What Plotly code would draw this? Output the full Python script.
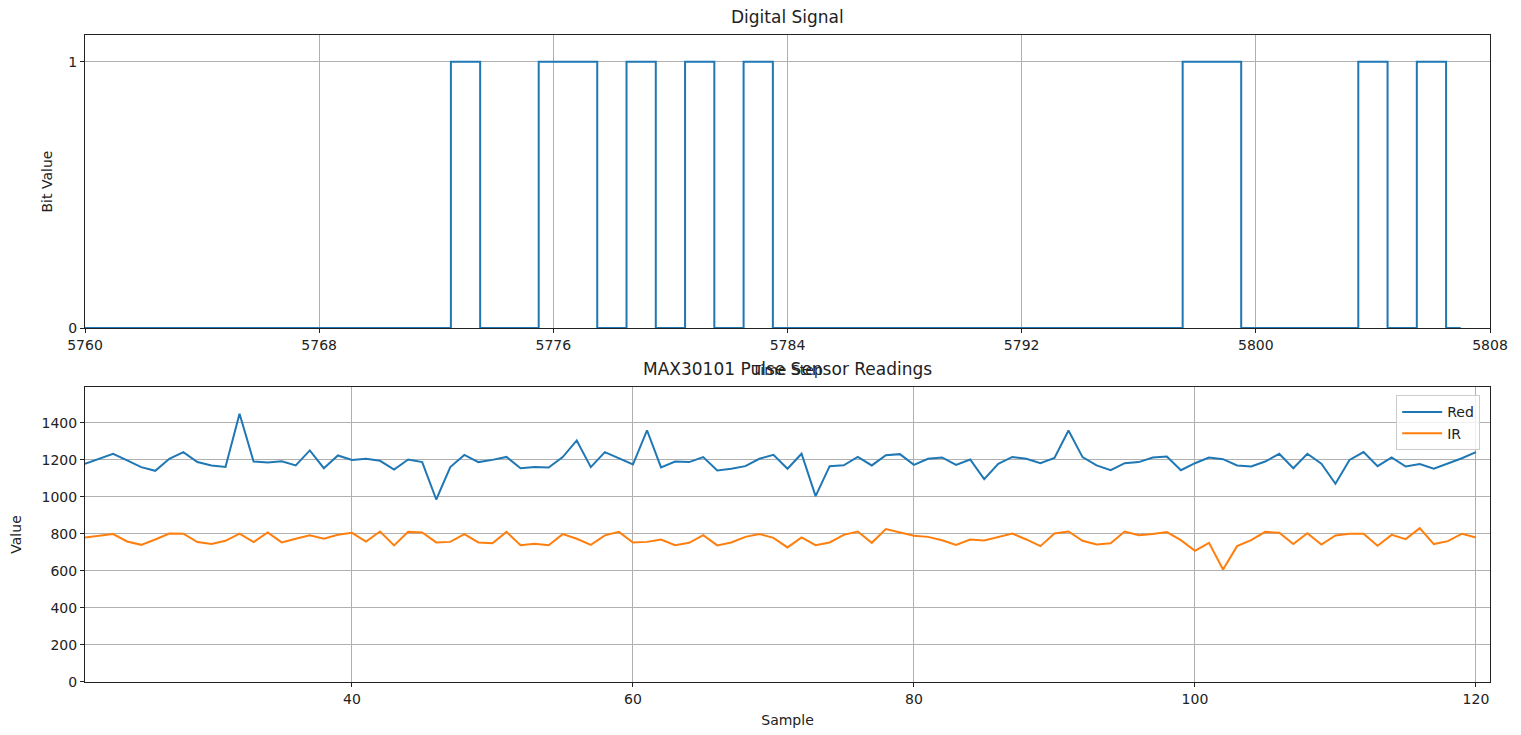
import plotly.graph_objects as go

# ---- Data ----
time_steps = list(range(5760, 5808))
one_positions = [5773, 5776, 5777, 5779, 5781, 5783, 5798, 5799, 5804, 5806]
bits = [1 if t in one_positions else 0 for t in time_steps]

samples = list(range(21, 121))
red = [1179, 1206, 1233, 1197, 1161, 1141, 1206, 1242, 1188, 1170,
       1162, 1449, 1191, 1186, 1193, 1170, 1251, 1155, 1224, 1200,
       1206, 1195, 1148, 1202, 1188, 986, 1161, 1227, 1188, 1200,
       1216, 1155, 1161, 1159, 1215, 1305, 1161, 1242, 1209, 1175,
       1360, 1159, 1191, 1188, 1215, 1143, 1152, 1166, 1206, 1227,
       1152, 1233, 1004, 1166, 1171, 1216, 1170, 1225, 1231, 1173,
       1206, 1213, 1173, 1202, 1096, 1179, 1216, 1206, 1182, 1211,
       1359, 1215, 1170, 1144, 1182, 1188, 1213, 1218, 1144, 1182,
       1213, 1204, 1170, 1164, 1191, 1233, 1155, 1233, 1179, 1071,
       1200, 1242, 1166, 1213, 1164, 1177, 1152, 1179, 1209, 1242]
ir = [781, 792, 799, 759, 741, 770, 802, 801, 756, 745,
      763, 802, 756, 808, 754, 774, 792, 774, 795, 806,
      759, 813, 738, 811, 808, 754, 757, 799, 754, 750,
      811, 739, 747, 739, 799, 774, 741, 792, 811, 754,
      757, 770, 739, 752, 793, 738, 754, 784, 799, 779,
      727, 781, 739, 754, 795, 813, 752, 826, 806, 790,
      784, 766, 741, 770, 765, 784, 802, 770, 734, 802,
      813, 763, 743, 750, 813, 793, 799, 810, 766, 709,
      752, 608, 734, 766, 811, 806, 745, 804, 743, 792,
      801, 801, 736, 795, 772, 831, 745, 761, 801, 781]

top_ticks = [5760, 5768, 5776, 5784, 5792, 5800, 5808]
bottom_xticks = [40, 60, 80, 100, 120]
bottom_yticks = [0, 200, 400, 600, 800, 1000, 1200, 1400]

BLUE = "#1f77b4"
ORANGE = "#ff7f0e"
FONT = "DejaVu Sans"
GRID = "#b0b0b0"

fig = go.Figure()
fig.add_trace(go.Scatter(x=time_steps, y=bits, mode="lines", line=dict(color=BLUE, width=2, shape="hvh"),
                         showlegend=False, xaxis="x", yaxis="y"))
fig.add_trace(go.Scatter(x=samples, y=red, mode="lines", name="Red", line=dict(color=BLUE, width=2),
                         xaxis="x2", yaxis="y2"))
fig.add_trace(go.Scatter(x=samples, y=ir, mode="lines", name="IR", line=dict(color=ORANGE, width=2),
                         xaxis="x2", yaxis="y2"))

axis_common = dict(showline=True, linecolor="#222", linewidth=1, mirror=True, ticks="outside",
                   ticklen=4, tickcolor="#222", showgrid=True, gridcolor=GRID, gridwidth=1,
                   zeroline=False, automargin=False, tickfont=dict(family=FONT, size=14, color="#222"))

ymax_top = max(bits) * 1.1
ymax_bot = max(red) * 1.1

fig.update_layout(
    width=1521, height=735,
    margin=dict(l=77, r=39, t=27, b=61),
    paper_bgcolor="white", plot_bgcolor="white",
    font=dict(family=FONT, size=14, color="#222"),
    xaxis=dict(axis_common, domain=[0, 1], anchor="y", range=[5760, 5808], tickvals=top_ticks,
               title=dict(text="Time Step", standoff=13, font=dict(size=14))),
    yaxis=dict(axis_common, domain=[0.547, 1.0], anchor="x", range=[0, ymax_top], tickvals=[0, 1],
               title=dict(text="Bit Value", standoff=12, font=dict(size=14))),
    xaxis2=dict(axis_common, domain=[0, 1], anchor="y2", range=[21, 121], tickvals=bottom_xticks,
                title=dict(text="Sample", standoff=9, font=dict(size=14))),
    yaxis2=dict(axis_common, domain=[0, 0.456], anchor="x2", range=[0, ymax_bot], tickvals=bottom_yticks,
                title=dict(text="Value", standoff=16, font=dict(size=14))),
    legend=dict(x=0.993, y=0.443, xanchor="right", yanchor="top", bgcolor="rgba(255,255,255,0.8)",
                bordercolor="#cccccc", borderwidth=1, itemwidth=40,
                font=dict(family=FONT, size=14, color="#222")),
    annotations=[
        dict(text="Digital Signal", x=0.5, y=1.0, xref="paper", yref="paper", xanchor="center",
             yanchor="bottom", yshift=6, showarrow=False, font=dict(family=FONT, size=17, color="#222")),
        dict(text="MAX30101 Pulse Sensor Readings", x=0.5, y=0.456, xref="paper", yref="paper",
             xanchor="center", yanchor="bottom", yshift=6, showarrow=False,
             font=dict(family=FONT, size=17, color="#222")),
    ],
)

fig.write_html("out.html")
